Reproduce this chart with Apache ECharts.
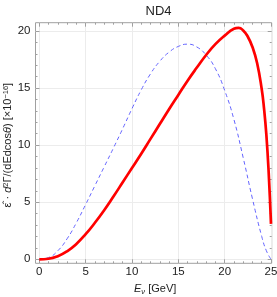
<!DOCTYPE html>
<html>
<head>
<meta charset="utf-8">
<script src="https://cdn.jsdelivr.net/npm/echarts@6/dist/echarts.min.js"></script>
<style>
html,body{margin:0;padding:0;background:#fff;}
#c{width:277px;height:297px;}
</style>
</head>
<body>
<div id="c"></div>
<script>
// Data
const redX = [0,1,2,3,4,5,6,7,8,9,10,11,12,13,14,15,16,17,18,19,20,21,21.5,22,22.5,23,23.5,24,24.25,24.5,24.75,25];
const redY = [0,0.05,0.27,0.7,1.35,2.2,3.2,4.3,5.5,6.75,8.0,9.25,10.55,11.85,13.15,14.4,15.65,16.8,17.9,18.85,19.6,20.2,20.28,20.05,19.5,18.6,17.2,14.9,13.2,10.9,7.6,3.1];
const blueX = [0,1,2,3,4,5,6,7,8,9,10,11,12,13,14,15,16,17,18,19,20,21,22,23,24,24.5,25];
const blueY = [0,0.15,0.75,1.8,3.2,4.8,6.45,8.1,9.75,11.45,13.2,14.85,16.25,17.35,18.15,18.65,18.85,18.6,17.9,16.7,14.8,12.25,8.9,5.3,2.0,0.75,0];
const xTicks = {min: 0, max: 25, interval: 5};
const yTicks = {min: 0, max: 20, interval: 5};
const titleText = 'ND4';
const xName = '{i|E}{s|ν} [GeV]';
const yName = 'ε̂ · {i|d}{sup|2}Γ/(dEdcos{i|θ}) [×10{sup|−16}]';

const pairs = (xs, ys) => xs.map((x, i) => [x, ys[i]]);
const font = 'Liberation Sans, Arial, sans-serif';
const frameColor = '#a0a0a0';
const gridColor = '#ececec';
const txt = '#222';

const chart = echarts.init(document.getElementById('c'), null, {renderer: 'canvas'});
chart.setOption({
  animation: false,
  title: {
    text: titleText, left: 153.6, top: 0, textAlign: 'center',
    textStyle: {fontFamily: font, fontSize: 13, fontWeight: 'normal', color: txt}
  },
  grid: [
    {left: 39.3, right: 6, top: 22.7, bottom: 33.7, containLabel: false, outerBoundsMode: 'none'},
    {left: 35.5, right: 5.3, top: 31, bottom: 37.7, containLabel: false, outerBoundsMode: 'none'},
    {left: 35.5, right: 5.3, top: 22.7, bottom: 33.7, containLabel: false, outerBoundsMode: 'none',
     show: true, borderColor: frameColor, borderWidth: 1, backgroundColor: 'transparent'}
  ],
  xAxis: [
    {
      gridIndex: 0, type: 'value', min: xTicks.min, max: xTicks.max, interval: xTicks.interval, position: 'bottom',
      axisLine: {show: false, onZero: false},
      axisTick: {show: true, inside: true, length: 4, lineStyle: {color: frameColor}},
      minorTick: {show: true, splitNumber: 5, length: 2, lineStyle: {color: frameColor}},
      splitLine: {show: true, lineStyle: {color: gridColor, width: 1}},
      axisLabel: {fontFamily: font, fontSize: 11.5, color: txt, margin: 3},
      name: xName, nameLocation: 'middle', nameGap: 19, nameMoveOverlap: false,
      nameTextStyle: {fontFamily: font, fontSize: 11, color: txt,
        rich: {i: {fontStyle: 'italic', fontFamily: font, fontSize: 11, color: txt},
               s: {fontStyle: 'italic', fontFamily: font, fontSize: 7.5, color: txt, padding: [6, 0, 0, 0]}}}
    },
    {
      gridIndex: 0, type: 'value', min: xTicks.min, max: xTicks.max, interval: xTicks.interval, position: 'top',
      axisLine: {show: false, onZero: false},
      axisTick: {show: true, inside: true, length: 4, lineStyle: {color: frameColor}},
      minorTick: {show: true, splitNumber: 5, length: 2, lineStyle: {color: frameColor}},
      splitLine: {show: false}, axisLabel: {show: false}
    },
    {gridIndex: 1, type: 'value', min: 0, max: 1, show: false},
    {gridIndex: 2, type: 'value', min: 0, max: 1, show: false}
  ],
  yAxis: [
    {gridIndex: 0, type: 'value', min: -0.35, max: 20.73, show: false},
    {
      gridIndex: 1, type: 'value', min: yTicks.min, max: yTicks.max, interval: yTicks.interval, position: 'left',
      axisLine: {show: false, onZero: false},
      axisTick: {show: true, inside: true, length: 4, lineStyle: {color: frameColor}},
      minorTick: {show: true, splitNumber: 5, length: 2, lineStyle: {color: frameColor}},
      splitLine: {show: true, lineStyle: {color: gridColor, width: 1}},
      axisLabel: {fontFamily: font, fontSize: 11.5, color: txt, margin: 5},
      name: yName, nameLocation: 'middle', nameGap: 22, nameMoveOverlap: false,
      nameTextStyle: {fontFamily: font, fontSize: 11, color: txt,
        rich: {
          i: {fontStyle: 'italic', fontFamily: font, fontSize: 11, color: txt},
          sup: {fontFamily: font, fontSize: 7.5, color: txt, verticalAlign: 'top', padding: [0, 0, 4, 0]}
        }}
    },
    {
      gridIndex: 1, type: 'value', min: yTicks.min, max: yTicks.max, interval: yTicks.interval, position: 'right',
      axisLine: {show: false, onZero: false},
      axisTick: {show: true, inside: true, length: 4, lineStyle: {color: frameColor}},
      minorTick: {show: true, splitNumber: 5, length: 2, lineStyle: {color: frameColor}},
      splitLine: {show: false}, axisLabel: {show: false}
    },
    {gridIndex: 2, type: 'value', min: 0, max: 1, show: false}
  ],
  series: [
    {
      type: 'line', xAxisIndex: 0, yAxisIndex: 0, data: pairs(blueX, blueY),
      smooth: 0.5, showSymbol: false, clip: false,
      lineStyle: {color: '#6464ff', width: 1, type: [4, 3]}
    },
    {
      type: 'line', xAxisIndex: 0, yAxisIndex: 0, data: pairs(redX, redY),
      smooth: 0.5, showSymbol: false, clip: false,
      lineStyle: {color: '#ff0000', width: 2.7}
    }
  ]
});
</script>
</body>
</html>
